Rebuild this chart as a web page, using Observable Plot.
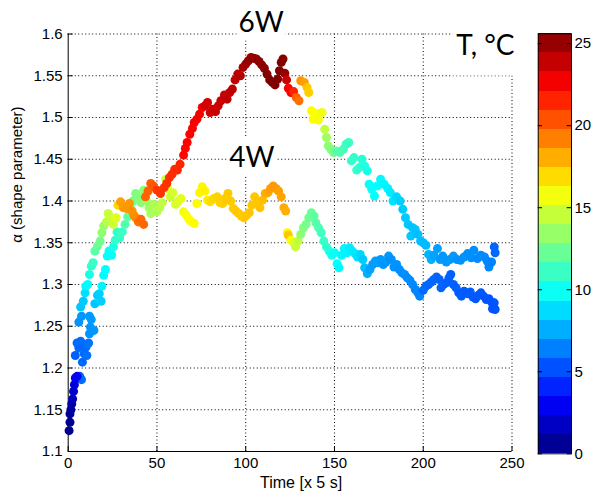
<!DOCTYPE html>
<html><head><meta charset="utf-8">
<script src="https://cdn.jsdelivr.net/npm/d3@7"></script>
<script src="https://cdn.jsdelivr.net/npm/@observablehq/plot@0.6"></script>
<style>
body{margin:0;background:#fff;}
#wrap{position:relative;width:591px;height:494px;display:flex;}
#wrap svg{display:block;flex:none;}
</style>
</head><body><div id="wrap"></div>
<script>
// ---- ticks ----
const xTicks = [0, 50, 100, 150, 200, 250];
const yTicks = [1.1, 1.15, 1.2, 1.25, 1.3, 1.35, 1.4, 1.45, 1.5, 1.55, 1.6];
const cbTicks = [0, 5, 10, 15, 20, 25];
const tempMax = 25.6;

// ---- series 6W: time [x 5 s], alpha, temperature °C ----
const w6_time = [
 0.5,1,1,1.5,2,2.5,3,3.5,4,5,
 4,5,6,7,6,7.5,7,8.5,9.5,10,
 11,12,13,14,15,16.5,18,19,20,21.5,
 22.5,24,25.5,27,28,29.5,31,33,34.5,36,
 37,38,39.5,41,42.5,43.5,45,46.5,48,50,
 52,54,55.5,57,58.5,60,61.5,63,65,66,
 67,68.5,70,71,72.5,74,75.5,77,78.5,80,
 81.5,83,84.5,86,88,89.5,91,92.5,94,95.5,
 97,98.5,100,101.5,103,104.5,106,107.5,109,110.5,
 112,113.5,115,116.5,118,119,120,121,122,123,
 124,125.5,127,128.5,130,131,133,134.5,135.5,137,
 138,139.5,141,143,144.5,145.5,146.5,148,149.5,151,
 153,155,156.5,158,159.5,161,162.5,164,165.5,167,
 168.5,169.5,171,172.5,174,176,178,180,181.5,183,
 185,187,188.5,190,191.5,193,194,195.5,197,198.5,
 200,201.5,203,204.5,206,208,209.5,211,213,215,
 217,219,221,223,225,227,228.5,230.5,232.5,234.5,
 236,237,238.5,240,240.5];
const w6_alpha = [
 1.125,1.135,1.145,1.150,1.157,1.163,1.172,1.180,1.188,1.190,
 1.215,1.230,1.224,1.232,1.255,1.262,1.273,1.280,1.290,1.298,
 1.300,1.312,1.322,1.326,1.340,1.346,1.352,1.362,1.370,1.375,
 1.385,1.380,1.372,1.380,1.395,1.399,1.392,1.391,1.397,1.388,
 1.383,1.380,1.375,1.378,1.372,1.405,1.412,1.421,1.418,1.413,
 1.409,1.416,1.421,1.428,1.432,1.438,1.437,1.444,1.455,1.463,
 1.470,1.480,1.487,1.494,1.498,1.504,1.512,1.514,1.518,1.506,
 1.510,1.507,1.514,1.520,1.527,1.522,1.530,1.534,1.545,1.552,
 1.550,1.560,1.564,1.568,1.572,1.571,1.570,1.567,1.563,1.559,
 1.552,1.545,1.542,1.539,1.546,1.556,1.566,1.570,1.553,1.545,
 1.535,1.530,1.531,1.524,1.520,1.544,1.542,1.536,1.530,1.508,
 1.498,1.505,1.497,1.506,1.486,1.476,1.466,1.462,1.458,1.460,
 1.458,1.462,1.468,1.470,1.448,1.452,1.437,1.440,1.450,1.442,
 1.436,1.420,1.414,1.406,1.418,1.426,1.420,1.415,1.410,1.400,
 1.405,1.400,1.390,1.380,1.372,1.358,1.368,1.366,1.360,1.352,
 1.350,1.347,1.336,1.330,1.335,1.343,1.330,1.334,1.327,1.330,
 1.334,1.330,1.329,1.333,1.337,1.332,1.341,1.331,1.335,1.333,
 1.328,1.321,1.327,1.345,1.338];
const w6_temp = [
 0.3,0.4,0.6,0.7,0.9,1.6,1.9,2.3,3.0,3.3,
 5.6,5.8,5.8,5.9,6.9,7.0,8.2,8.3,8.8,9.4,
 9.6,10.2,10.9,11.0,11.8,12.2,12.4,13.2,13.5,14.2,
 14.6,14.7,14.8,15.2,17.0,18.4,18.5,18.6,18.6,18.7,
 18.8,18.9,19.6,19.8,19.8,19.9,20.0,20.1,20.3,21.0,
 21.1,21.1,21.2,21.2,21.3,21.3,21.4,21.5,22.2,22.3,
 22.4,22.4,22.5,22.5,22.6,22.6,22.7,23.4,23.5,23.6,
 23.6,23.7,23.7,23.8,23.8,23.9,23.9,24.0,24.0,24.1,
 24.2,24.6,24.8,25.0,25.0,25.1,25.1,25.2,25.2,25.3,
 25.5,25.6,25.6,25.6,25.6,25.6,25.5,25.4,25.0,23.8,
 22.5,22.4,21.5,20.0,19.6,18.6,18.4,17.4,17.2,16.1,
 16.0,15.9,15.8,15.6,14.4,13.6,13.2,12.9,12.5,12.0,
 11.6,11.3,11.2,11.1,11.0,10.9,10.8,10.7,10.6,10.4,
 10.2,9.8,9.7,9.6,9.6,9.5,9.4,9.3,9.1,8.9,
 8.6,8.4,8.3,8.3,8.2,8.2,8.1,8.1,8.0,8.0,
 7.9,7.9,7.7,7.6,7.3,7.2,7.1,7.0,7.0,7.0,
 7.0,6.9,6.9,6.9,6.8,6.8,6.8,6.7,6.7,6.7,
 6.6,6.6,6.5,5.7,5.8];

// ---- series 4W ----
const w4_time = [
 6.5,7.5,8,9,10,10.5,11.5,12,12.5,13,
 12,14.5,15,16.5,17.5,18.5,19,20,21,22,
 23,24.5,25.5,26.5,27.5,29,30.5,32,33.5,35,
 36.5,38,39.5,41,42.5,44,45.5,46.5,48,50,
 51.5,53,55,56,57.5,59,60.5,62,63.5,65,
 66.5,68,69.5,71,72.5,74,75.5,77,78.5,80,
 82,84,85.5,87,88.5,90,91.5,93,94.5,96,
 97.5,99,100.5,102,103.5,105,106.5,108,109.5,111,
 112.5,114,115.5,117,118.5,120,121.5,122.5,123.5,124,
 125.5,127,128,129.5,131,132.5,134,135.5,137,138.5,
 139.5,141,142.5,144,145.5,147,148.5,150,151.5,152.5,
 154,155.5,157,158.5,160,161.5,163,164.5,166,167,
 168.5,170,171.5,173,174.5,176,177.5,179,180.5,182,
 183.5,185,186.5,188,189.5,191,192.5,194,195.5,197,
 198,200,201.5,203,204.5,206,207.5,209,210,211.5,
 213,214.5,215.5,217,218.5,220,221.5,223,225,226.5,
 228,229.5,231,232.5,234,235.5,237,238.5,240,240.5,
 239];
const w4_alpha = [
 1.190,1.186,1.207,1.217,1.225,1.215,1.230,1.241,1.249,1.258,
 1.262,1.245,1.277,1.287,1.289,1.280,1.298,1.311,1.318,1.334,
 1.340,1.335,1.345,1.353,1.363,1.356,1.363,1.372,1.381,1.392,
 1.400,1.409,1.404,1.398,1.413,1.400,1.392,1.385,1.396,1.387,
 1.392,1.398,1.426,1.415,1.405,1.410,1.396,1.400,1.403,1.387,
 1.383,1.378,1.375,1.373,1.397,1.410,1.417,1.412,1.401,1.399,
 1.403,1.405,1.398,1.397,1.403,1.409,1.400,1.391,1.388,1.385,
 1.382,1.380,1.383,1.386,1.395,1.405,1.398,1.392,1.401,1.409,
 1.410,1.415,1.418,1.415,1.412,1.405,1.392,1.388,1.362,1.359,
 1.353,1.350,1.345,1.352,1.360,1.368,1.372,1.380,1.386,1.382,
 1.374,1.368,1.362,1.352,1.345,1.340,1.335,1.338,1.325,1.320,
 1.335,1.343,1.338,1.344,1.340,1.337,1.333,1.336,1.330,1.320,
 1.313,1.318,1.324,1.328,1.326,1.330,1.324,1.327,1.334,1.330,
 1.321,1.324,1.318,1.314,1.312,1.308,1.305,1.300,1.294,1.290,
 1.286,1.293,1.298,1.300,1.303,1.306,1.309,1.306,1.296,1.300,
 1.302,1.308,1.312,1.300,1.296,1.290,1.286,1.292,1.289,1.291,
 1.285,1.283,1.287,1.290,1.286,1.282,1.283,1.279,1.278,1.270,
 1.271];
const w4_temp = [
 5.6,5.8,5.8,5.9,5.9,6.0,6.1,6.9,7.0,7.1,
 7.1,7.0,8.2,8.3,8.4,8.4,9.3,9.5,9.6,9.6,
 9.7,9.8,10.2,10.8,10.9,11.0,11.1,11.6,12.0,12.3,
 12.6,12.8,12.9,13.0,13.1,13.4,13.6,13.8,13.9,14.0,
 14.2,14.4,14.6,14.7,14.8,14.9,15.0,15.1,15.3,15.8,
 15.9,16.0,16.0,16.1,16.1,16.2,16.2,16.3,16.5,16.8,
 17.0,17.1,17.2,17.2,17.3,17.3,17.3,17.3,17.3,17.3,
 17.3,17.3,17.4,17.4,17.4,17.4,17.4,17.5,17.6,18.0,
 18.2,18.4,18.5,18.5,18.4,18.3,18.1,18.0,16.2,17.4,
 15.8,15.4,14.7,14.4,13.2,12.8,12.6,12.4,12.2,12.0,
 11.8,11.6,11.2,11.0,10.8,10.4,10.0,9.8,9.6,9.5,
 9.4,9.4,9.3,9.2,9.1,9.0,8.9,8.6,8.3,8.0,
 7.6,7.3,7.2,7.2,7.1,7.1,7.0,7.0,7.0,6.9,
 6.9,6.9,6.8,6.8,6.8,6.7,6.7,6.7,6.6,6.6,
 6.5,5.9,5.9,5.8,5.8,5.8,5.7,5.7,5.7,5.7,
 5.6,5.6,5.6,5.6,5.6,5.5,5.5,5.5,5.5,5.5,
 5.4,5.4,5.4,5.4,5.4,5.3,5.3,5.3,5.3,5.3,
 5.3];

// ---- annotations ----
const labelText = ["6W", "4W", "T, \u00B0C"];
const labelTime = [108.7, 103.4, 235];
const labelAlpha = [1.6126, 1.4515, 1.585];

// ---- build ----
function clamp01(v){ return Math.max(0, Math.min(1, v)); }
function jet(t){
  t = clamp01(t);
  const r = clamp01(Math.min(4*t - 1.5, -4*t + 4.5));
  const g = clamp01(Math.min(4*t - 0.5, -4*t + 3.5));
  const b = clamp01(Math.min(4*t + 0.5, -4*t + 2.5));
  return d3.rgb(r*255, g*255, b*255).formatHex();
}
const colorScale = {type: "linear", domain: [0, tempMax], interpolate: jet, clamp: true};

const pts = [];
w4_time.forEach((t, i) => pts.push({t, a: w4_alpha[i], T: w4_temp[i], s: "4W"}));
w6_time.forEach((t, i) => pts.push({t, a: w6_alpha[i], T: w6_temp[i], s: "6W"}));
const annots = labelText.map((s, i) => ({s, t: labelTime[i], a: labelAlpha[i]}));

const font = "'Liberation Sans', Arial, Helvetica, sans-serif";
const gridStyle = {stroke: "#000", strokeOpacity: 1, strokeWidth: 1, strokeDasharray: "1,2.5"};

const main = Plot.plot({
  width: 530, height: 494,
  marginLeft: 67.7, marginRight: 18.5, marginTop: 33.5, marginBottom: 43,
  style: {fontFamily: font, fontSize: "15px", color: "#000", background: "transparent", overflow: "visible"},
  x: {domain: [0, 250]},
  y: {domain: [1.1, 1.6]},
  color: colorScale,
  marks: [
    Plot.gridX(xTicks.slice(1), gridStyle),
    Plot.gridY(yTicks.slice(1), gridStyle),
    Plot.ruleX([0], {stroke: "#000"}),
    Plot.ruleY([1.1], {stroke: "#000"}),
    Plot.axisX(xTicks, {tickSize: -5, tickPadding: 11, label: null, fontSize: 15}),
    Plot.axisY(yTicks, {tickSize: -5, tickPadding: 10.5, label: null, fontSize: 15, tickFormat: d => String(d)}),
    Plot.dot(pts, {x: "t", y: "a", fill: "T", r: 4.5, stroke: null}),
    Plot.text(["Time [x 5 s]"], {frameAnchor: "bottom", dy: 36, dx: 11, fontSize: 16, fill: "#000"}),
    Plot.text(["\u03B1 (shape parameter)"], {frameAnchor: "left", rotate: -90, dx: -51, fontSize: 15, fill: "#000"}),
    Plot.text(annots, {x: "t", y: "a", text: "s", fontSize: 28, fontFamily: "Lato, 'Open Sans', sans-serif", fill: "#000"})
  ]
});

const nBands = 22;
const bands = d3.range(nBands).map(i => ({y1: i * tempMax / nBands, y2: (i + 1) * tempMax / nBands, v: (i + 0.5) * tempMax / nBands}));
const cb = Plot.plot({
  width: 61, height: 494,
  marginLeft: 7.7, marginRight: 20, marginTop: 33.3, marginBottom: 40.7,
  style: {fontFamily: font, fontSize: "15px", color: "#000", background: "transparent", overflow: "visible"},
  x: {domain: [0, 1], axis: null},
  y: {domain: [0, tempMax]},
  color: colorScale,
  marks: [
    Plot.rect(bands, {x1: 0, x2: 1, y1: "y1", y2: "y2", fill: "v", shapeRendering: "crispEdges"}),
    Plot.ruleY(cbTicks, {x1: 0, x2: 0.13, stroke: "#000"}),
    Plot.ruleY(cbTicks, {x1: 0.87, x2: 1, stroke: "#000"}),
    Plot.frame({stroke: "#000"}),
    Plot.axisY(cbTicks, {anchor: "right", tickSize: 0, tickPadding: 3, label: null, fontSize: 15})
  ]
});

const wrap = document.getElementById("wrap");
wrap.append(main, cb);

// white boxes behind the annotations (like the original text boxes)
const boxPad = {"6W": [2, 2, 2, 2], "4W": [2, 2, 2, 2], "T, \u00B0C": [4, 3, 14, 4]}; // top,right,bottom,left
d3.select(main).selectAll("text").each(function() {
  const s = this.textContent;
  if (!(s in boxPad)) return;
  const b = this.getBBox();
  const p = boxPad[s];
  const r = document.createElementNS("http://www.w3.org/2000/svg", "rect");
  r.setAttribute("x", b.x - p[3]);
  r.setAttribute("y", b.y - p[0]);
  r.setAttribute("width", b.width + p[1] + p[3]);
  r.setAttribute("height", b.height + p[0] + p[2]);
  r.setAttribute("fill", "#fff");
  r.setAttribute("stroke", "none");
  const tr = this.getAttribute("transform");
  if (tr) r.setAttribute("transform", tr);
  this.parentNode.insertBefore(r, this);
});
</script></body></html>
